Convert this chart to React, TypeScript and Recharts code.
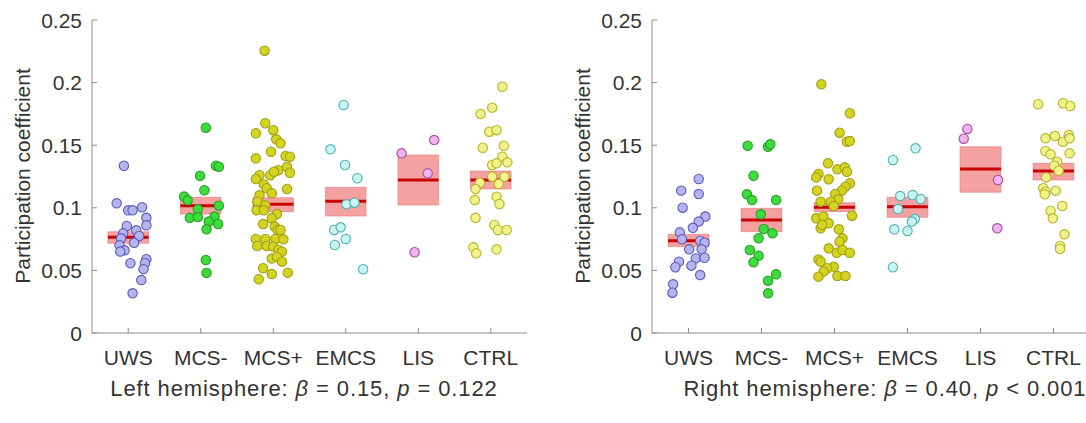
import { ComposedChart, Scatter, XAxis, YAxis, ReferenceArea, ReferenceLine } from 'recharts';

const GROUPS = ['UWS', 'MCS-', 'MCS+', 'EMCS', 'LIS', 'CTRL'];
const Y_TICKS = [0, 0.05, 0.1, 0.15, 0.2, 0.25];

const FILLS = ['#b4b4f0', '#3cdc3c', '#d4d420', '#c8f4f4', '#f0b4f0', '#f2f28c'];
const EDGES = ['#5c5cb4', '#28a028', '#a0a014', '#50b0b0', '#a050a0', '#b4b428'];

// [jitter, value] per subject, left hemisphere
const L_UWS: [number, number][] = [
  [-0.06, 0.1336], [-0.16, 0.1036], [0.0, 0.098], [0.06, 0.098], [0.19, 0.1004], [0.25, 0.092],
  [0.25, 0.086], [-0.02, 0.0855], [0.11, 0.082], [0.15, 0.0775], [-0.07, 0.0796], [-0.1, 0.0756],
  [0.08, 0.072], [-0.12, 0.07], [-0.05, 0.066], [-0.11, 0.065], [0.25, 0.059], [0.23, 0.0557],
  [0.21, 0.051], [0.03, 0.0557], [0.18, 0.0423], [0.06, 0.0317],
];
const L_MCSM: [number, number][] = [
  [0.07, 0.164], [0.21, 0.1336], [0.25, 0.1328], [-0.01, 0.1256], [0.05, 0.114], [-0.23, 0.109],
  [-0.18, 0.106], [0.25, 0.1017], [-0.04, 0.0988], [-0.15, 0.092], [-0.04, 0.0926], [0.19, 0.093],
  [0.24, 0.087], [0.11, 0.089], [0.08, 0.0828], [0.07, 0.0583], [0.08, 0.048],
];
const L_MCSP: [number, number][] = [
  [-0.12, 0.2255], [-0.11, 0.1675], [-0.24, 0.1595], [0.0, 0.162], [0.04, 0.1547], [0.1, 0.1515],
  [-0.03, 0.1448], [-0.24, 0.1395], [0.17, 0.1414], [0.23, 0.1408], [0.19, 0.1328], [-0.19, 0.126],
  [-0.24, 0.123], [-0.04, 0.126], [0.07, 0.13], [0.01, 0.1288], [0.23, 0.128], [-0.13, 0.1187],
  [-0.09, 0.1156], [-0.02, 0.1116], [0.19, 0.115], [-0.19, 0.11], [-0.22, 0.1049], [-0.11, 0.102],
  [-0.23, 0.098], [-0.13, 0.098], [0.05, 0.095], [-0.02, 0.0916], [0.02, 0.085], [0.06, 0.0823],
  [0.1, 0.0823], [-0.14, 0.087], [-0.24, 0.0751], [-0.11, 0.0751], [-0.22, 0.0695], [-0.09, 0.0695],
  [0.03, 0.0751], [0.14, 0.0748], [0.0, 0.069], [0.07, 0.0663], [0.12, 0.065], [-0.02, 0.0596],
  [0.05, 0.061], [0.12, 0.057], [-0.14, 0.0517], [-0.2, 0.0429], [-0.02, 0.0471], [0.2, 0.0482],
];
const L_EMCS: [number, number][] = [
  [-0.03, 0.1821], [-0.21, 0.1467], [-0.01, 0.1342], [0.16, 0.1236], [0.01, 0.1028], [0.12, 0.1041],
  [-0.16, 0.0823], [-0.07, 0.0844], [0.0, 0.0751], [-0.15, 0.0703], [0.24, 0.0509],
];
const L_LIS: [number, number][] = [[-0.23, 0.1435], [0.22, 0.1541], [0.13, 0.1275], [-0.05, 0.0645]];
const L_CTRL: [number, number][] = [
  [0.16, 0.1967], [-0.14, 0.175], [0.02, 0.18], [-0.02, 0.1608], [0.08, 0.162], [-0.11, 0.148],
  [0.18, 0.1496], [0.16, 0.1408], [0.23, 0.1363], [0.02, 0.1342], [0.08, 0.1355], [0.02, 0.1248],
  [0.19, 0.1248], [-0.15, 0.12], [0.11, 0.119], [-0.21, 0.115], [-0.22, 0.1062], [0.08, 0.1089],
  [0.12, 0.103], [-0.21, 0.092], [0.05, 0.0863], [0.1, 0.0823], [0.22, 0.0823], [-0.24, 0.0684],
  [-0.2, 0.0636], [0.08, 0.0668],
];
const L_MEAN = [0.0764, 0.1017, 0.1028, 0.1052, 0.1222, 0.1222];
const L_LO = [0.0716, 0.095, 0.0969, 0.0934, 0.1022, 0.115];
const L_HI = [0.0809, 0.1084, 0.1081, 0.1164, 0.1422, 0.1294];

// right hemisphere
const R_UWS: [number, number][] = [
  [0.14, 0.123], [-0.1, 0.1137], [0.14, 0.111], [-0.08, 0.1001], [0.23, 0.093], [0.14, 0.089],
  [0.06, 0.084], [-0.12, 0.0804], [-0.09, 0.0748], [0.16, 0.0737], [0.22, 0.0721], [0.01, 0.0668],
  [0.18, 0.0668], [0.1, 0.0596], [0.22, 0.0601], [-0.13, 0.057], [-0.18, 0.0525], [0.04, 0.0538],
  [0.16, 0.0463], [-0.21, 0.0389], [-0.22, 0.0322],
];
const R_MCSM: [number, number][] = [
  [-0.19, 0.1496], [0.09, 0.1488], [0.12, 0.1507], [-0.11, 0.1256], [-0.2, 0.1108], [-0.13, 0.1062],
  [0.2, 0.1062], [-0.01, 0.0948], [0.03, 0.0831], [0.15, 0.0796], [-0.04, 0.0756], [-0.16, 0.0663],
  [-0.04, 0.0617], [-0.11, 0.0565], [0.2, 0.0469], [0.09, 0.0418], [0.09, 0.0317],
];
const R_MCSP: [number, number][] = [
  [-0.18, 0.1986], [0.21, 0.1755], [0.07, 0.16], [0.17, 0.1528], [0.21, 0.1533], [-0.09, 0.1355],
  [0.04, 0.1307], [0.14, 0.1323], [0.17, 0.1288], [-0.22, 0.127], [-0.25, 0.1243], [-0.08, 0.1228],
  [0.21, 0.1196], [0.15, 0.1169], [-0.24, 0.1137], [0.1, 0.1137], [0.01, 0.111], [0.05, 0.1068],
  [-0.05, 0.1049], [-0.19, 0.1049], [-0.01, 0.1014], [0.24, 0.0937], [-0.25, 0.0916], [-0.15, 0.0929],
  [-0.08, 0.0876], [-0.19, 0.0836], [-0.17, 0.0863], [0.06, 0.0828], [0.11, 0.0756], [0.07, 0.0729],
  [-0.08, 0.0676], [0.03, 0.0641], [0.11, 0.0663], [0.21, 0.0641], [-0.22, 0.0588], [-0.19, 0.057],
  [-0.01, 0.053], [-0.1, 0.0517], [-0.15, 0.049], [-0.22, 0.045], [0.04, 0.0455], [0.15, 0.0455],
];
const R_EMCS: [number, number][] = [
  [0.11, 0.1475], [-0.2, 0.1382], [-0.1, 0.1094], [0.07, 0.1102], [0.18, 0.107], [-0.13, 0.099],
  [0.1, 0.091], [0.06, 0.089], [-0.18, 0.0828], [0.0, 0.0815], [-0.2, 0.0525],
];
const R_LIS: [number, number][] = [[-0.18, 0.163], [-0.23, 0.1552], [0.24, 0.1222], [0.23, 0.0836]];
const R_CTRL: [number, number][] = [
  [-0.21, 0.1827], [0.13, 0.1835], [0.23, 0.1813], [-0.11, 0.1555], [0.02, 0.1573], [0.13, 0.1528],
  [0.21, 0.1581], [0.22, 0.1555], [-0.11, 0.1454], [-0.04, 0.1427], [0.22, 0.1435], [0.05, 0.1368],
  [0.01, 0.1336], [0.07, 0.1296], [-0.1, 0.1243], [-0.14, 0.1156], [-0.11, 0.1129], [-0.12, 0.1108],
  [0.03, 0.1137], [0.12, 0.1014], [-0.04, 0.0975], [-0.01, 0.0916], [0.15, 0.0788], [0.09, 0.0695],
  [0.09, 0.0671],
];
const R_MEAN = [0.0737, 0.0903, 0.1004, 0.1009, 0.131, 0.1294];
const R_LO = [0.069, 0.0809, 0.0969, 0.0924, 0.1124, 0.1222];
const R_HI = [0.0788, 0.0996, 0.1041, 0.1084, 0.1488, 0.1355];

const AXIS = '#8c8c8c';
const TEXT = '#333';
const FONT = '"Liberation Sans", Arial, sans-serif';
const BOX_HALF = 0.28;

function XTick({ x, y, payload }: any) {
  return (
    <g>
      <line x1={x} y1={y} x2={x} y2={y - 5} stroke={AXIS} />
      <text x={x} y={y + 24} textAnchor="middle" dominantBaseline="central" fontSize={21} fontFamily={FONT} fill={TEXT}>
        {GROUPS[payload.value - 1]}
      </text>
    </g>
  );
}

function YTick({ x, y, payload }: any) {
  return (
    <g>
      <line x1={x} y1={y} x2={x + 5} y2={y} stroke={AXIS} />
      <text x={x - 10} y={y} textAnchor="end" dominantBaseline="central" fontSize={21} fontFamily={FONT} fill={TEXT}>
        {payload.value}
      </text>
    </g>
  );
}

function Panel({ groups, mean, lo, hi, width, marginRight }: any) {
  return (
    <ComposedChart width={width} height={423} margin={{ top: 20, right: marginRight, bottom: 50, left: 0 }}>
      <XAxis type="number" dataKey="x" domain={[0.5, 6.5]} ticks={[1, 2, 3, 4, 5, 6]} height={40}
        tick={<XTick />} tickLine={false} tickSize={0} tickMargin={0} axisLine={{ stroke: AXIS }} allowDataOverflow />
      <YAxis type="number" dataKey="y" domain={[0, 0.25]} ticks={Y_TICKS} width={92}
        tick={<YTick />} tickLine={false} tickSize={0} tickMargin={0} axisLine={{ stroke: AXIS }} />
      {GROUPS.map((g, i) => (
        <ReferenceArea key={'box' + g} x1={i + 1 - BOX_HALF} x2={i + 1 + BOX_HALF} y1={lo[i]} y2={hi[i]}
          fill="#f07474" fillOpacity={0.68} stroke="#e06a6a" strokeOpacity={0.5} />
      ))}
      {GROUPS.map((g, i) => (
        <ReferenceLine key={'mean' + g}
          segment={[{ x: i + 1 - BOX_HALF, y: mean[i] }, { x: i + 1 + BOX_HALF, y: mean[i] }]}
          stroke="#c80000" strokeWidth={3} />
      ))}
      {groups.map((pts: [number, number][], i: number) => (
        <Scatter key={GROUPS[i]} data={pts.map(([j, v]) => ({ x: i + 1 + j, y: v }))} isAnimationActive={false}
          shape={(p: any) => <circle cx={p.cx} cy={p.cy} r={4.7} fill={FILLS[i]} stroke={EDGES[i]} strokeWidth={1.1} />} />
      ))}
    </ComposedChart>
  );
}

const yLabel = (left: number) => (
  <div style={{
    position: 'absolute', left: left - 130, top: 176 - 13, width: 260, height: 26, lineHeight: '26px',
    textAlign: 'center', transform: 'rotate(-90deg)', fontSize: 21, fontFamily: FONT, color: TEXT,
  }}>
    Participation coefficient
  </div>
);

const title = (center: number, side: string, beta: string, rel: string, p: string) => (
  <div style={{
    position: 'absolute', left: center - 250, top: 375, width: 500, height: 28, lineHeight: '28px',
    textAlign: 'center', fontSize: 22, fontFamily: FONT, color: TEXT, letterSpacing: 0.9,
  }}>
    {side} hemisphere: <i>β</i> = {beta}, <i>p</i> {rel} {p}
  </div>
);

export default function App() {
  return (
    <div style={{ position: 'absolute', left: 0, top: 0, width: 1086, height: 423, overflow: 'hidden', background: '#fff' }}>
      <div style={{ position: 'absolute', left: 0, top: 0 }}>
        <Panel groups={[L_UWS, L_MCSM, L_MCSP, L_EMCS, L_LIS, L_CTRL]} mean={L_MEAN} lo={L_LO} hi={L_HI} width={560} marginRight={33} />
      </div>
      <div style={{ position: 'absolute', left: 560, top: 0 }}>
        <Panel groups={[R_UWS, R_MCSM, R_MCSP, R_EMCS, R_LIS, R_CTRL]} mean={R_MEAN} lo={R_LO} hi={R_HI} width={530} marginRight={0} />
      </div>
      {yLabel(23)}
      {yLabel(583)}
      {title(304, 'Left', '0.15', '=', '0.122')}
      {title(885, 'Right', '0.40', '<', '0.001')}
    </div>
  );
}
